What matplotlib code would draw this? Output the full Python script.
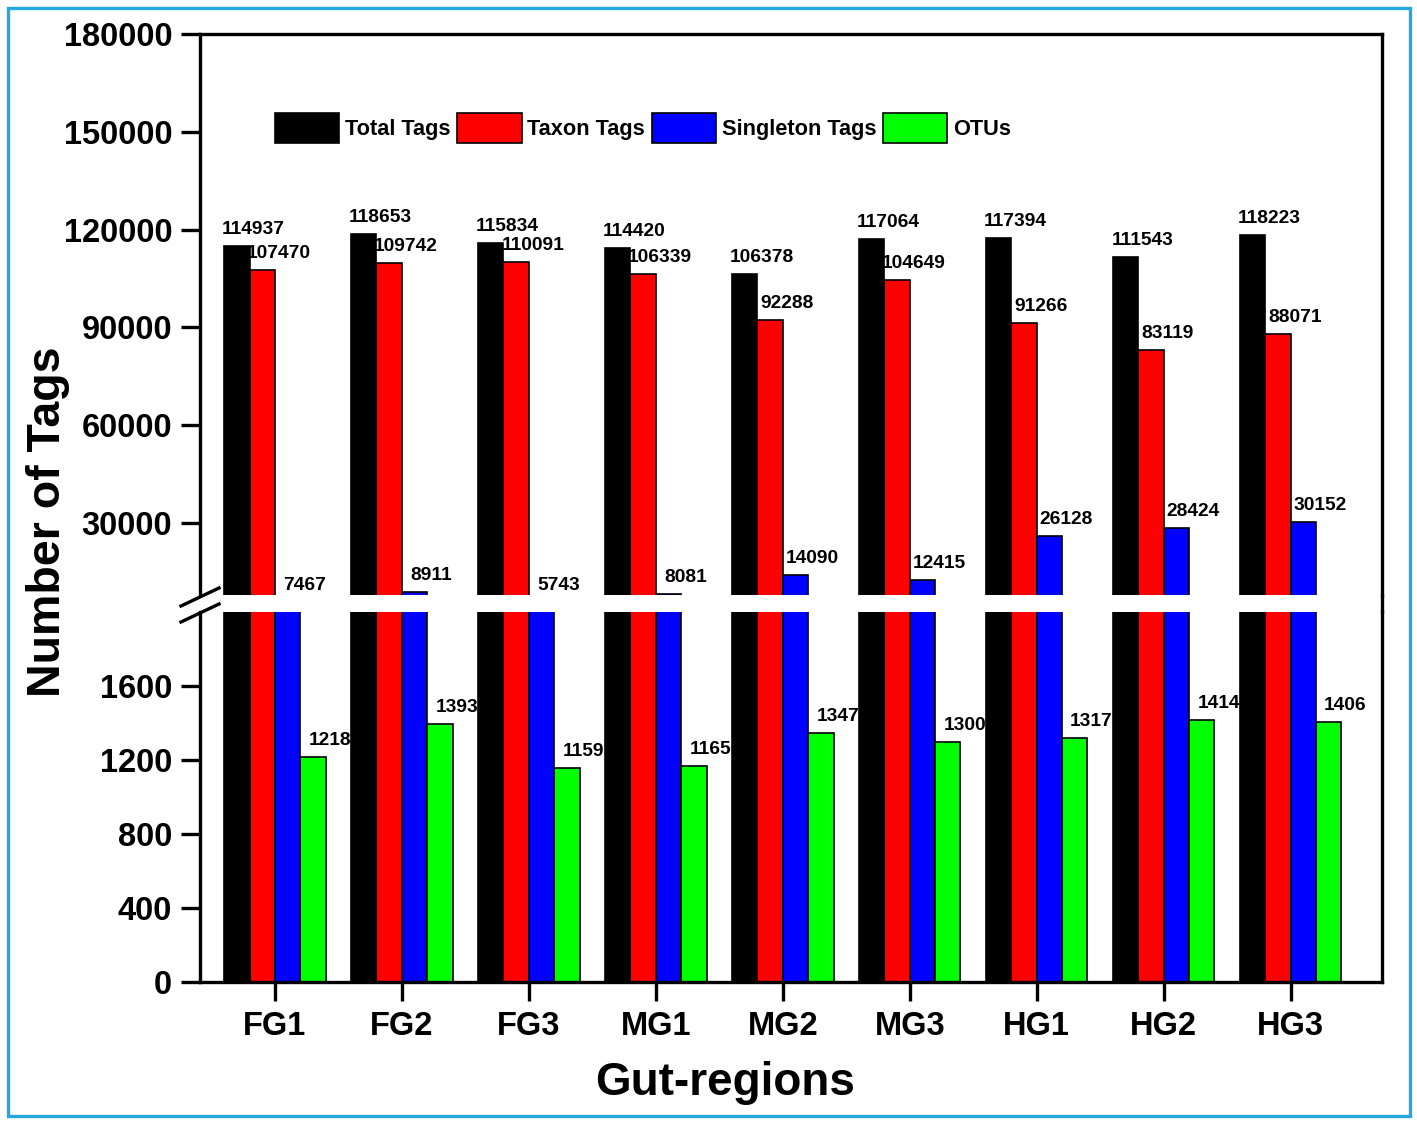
import matplotlib
matplotlib.use('Agg')
import matplotlib.pyplot as plt
import numpy as np
from matplotlib.lines import Line2D
from matplotlib.patches import Rectangle

plt.rcParams['font.family'] = ['Liberation Sans', 'DejaVu Sans']
plt.rcParams['font.weight'] = 'bold'

# data
regions = ['FG1', 'FG2', 'FG3', 'MG1', 'MG2', 'MG3', 'HG1', 'HG2', 'HG3']
total_tags = [114937, 118653, 115834, 114420, 106378, 117064, 117394, 111543, 118223]
taxon_tags = [107470, 109742, 110091, 106339, 92288, 104649, 91266, 83119, 88071]
singleton_tags = [7467, 8911, 5743, 8081, 14090, 12415, 26128, 28424, 30152]
otus = [1218, 1393, 1159, 1165, 1347, 1300, 1317, 1414, 1406]

series_names = ['Total Tags', 'Taxon Tags', 'Singleton Tags', 'OTUs']
series_colors = ['#000000', '#ff0000', '#0000ff', '#00ff00']
series = [total_tags, taxon_tags, singleton_tags, otus]

W, H = 1417, 1124
fig = plt.figure(figsize=(W / 100, H / 100), dpi=100)

def fx(px):
    return px / W

def fy(py):
    return 1 - py / H

left, right = 200, 1382
ax_top = fig.add_axes([fx(left), fy(595), fx(right - left), fy(34) - fy(595)])
ax_bot = fig.add_axes([fx(left), fy(982), fx(right - left), fy(612) - fy(982)])

top_lo, top_hi = 7900, 180000
bot_lo, bot_hi = 0, 2000

x = np.arange(len(regions))
w = 0.2
for k, (vals, col, name) in enumerate(zip(series, series_colors, series_names)):
    pos = x + (k - 1.5) * w
    for ax in (ax_top, ax_bot):
        ax.bar(pos, vals, width=w, color=col, edgecolor='black', linewidth=1.2,
               label=name if ax is ax_top else None)
    # value labels
    for p, v in zip(pos, vals):
        if k < 3:
            yv = max(v, top_lo)
            off = 12 if v > top_lo else 5
            ax_top.annotate(str(v), xy=(p + w / 2, yv), xytext=(3, off * 0.72),
                            textcoords='offset points', ha='center', va='baseline',
                            fontsize=13.8, fontweight='bold')
        else:
            ax_bot.annotate(str(v), xy=(p + w / 2, v), xytext=(3, 12 * 0.72),
                            textcoords='offset points', ha='center', va='baseline',
                            fontsize=13.8, fontweight='bold')

for ax in (ax_top, ax_bot):
    ax.set_xlim(-0.59, 8.72)
    for s in ax.spines.values():
        s.set_linewidth(2.4)
    ax.tick_params(axis='y', direction='out', length=14, width=2.4, pad=6,
                   labelsize=23.5)

ax_top.set_ylim(top_lo, top_hi)
ax_top.set_yticks([30000, 60000, 90000, 120000, 150000, 180000])
ax_top.set_yticklabels(['30000', '60000', '90000', '120000', '150000', '180000'],
                       fontweight='bold')
ax_top.spines['bottom'].set_visible(False)
ax_top.tick_params(axis='x', bottom=False, labelbottom=False)

ax_bot.set_ylim(bot_lo, bot_hi)
ax_bot.set_yticks([0, 400, 800, 1200, 1600])
ax_bot.set_yticklabels(['0', '400', '800', '1200', '1600'], fontweight='bold')
ax_bot.spines['top'].set_visible(False)
ax_bot.set_xticks(x)
ax_bot.set_xticklabels(regions, fontweight='bold')
ax_bot.tick_params(axis='x', direction='out', length=14, width=2.4, pad=7,
                   labelsize=23.5)

# right spine runs through the gap, left spine broken with slashes
fig.add_artist(Line2D([fx(right), fx(right)], [fy(595), fy(612)], color='black',
                      linewidth=2.4))
fig.add_artist(Line2D([fx(181), fx(219)], [fy(606), fy(588)], color='black',
                      linewidth=2.4))
fig.add_artist(Line2D([fx(181), fx(219)], [fy(622), fy(604)], color='black',
                      linewidth=2.4))

ax_top.legend(loc='center left', bbox_to_anchor=(fx(275), fy(128)),
              bbox_transform=fig.transFigure, ncol=4, frameon=False,
              prop={'size': 15.7, 'weight': 'bold'}, handlelength=2.95,
              handleheight=1.7, handletextpad=0.27, columnspacing=0.3,
              borderpad=0, borderaxespad=0)

fig.text(fx(48), fy(522), 'Number of Tags', rotation=90, ha='center', va='center',
         fontsize=33.5, fontweight='bold')
fig.text(fx(725), fy(1083), 'Gut-regions', ha='center', va='center',
         fontsize=33, fontweight='bold')

# cyan frame around the picture
fig.add_artist(Rectangle((fx(8), fy(1116)), fx(1410 - 8), fy(8) - fy(1116),
                         fill=False, edgecolor='#22a9e1', linewidth=2.4,
                         transform=fig.transFigure))

fig.savefig('out.png', dpi=100)
